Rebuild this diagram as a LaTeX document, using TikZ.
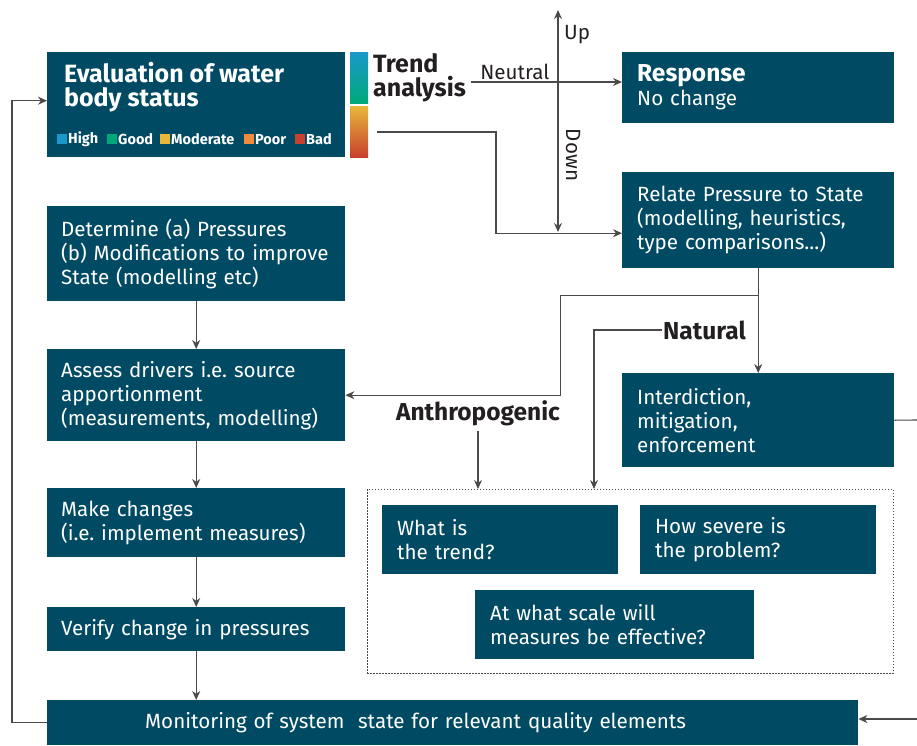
\documentclass[tikz,border=0pt]{standalone}
\usepackage{fontspec}
\setmainfont{Fira Sans}
\usetikzlibrary{arrows.meta}
\frenchspacing

\definecolor{boxteal}{HTML}{004B63}
\definecolor{wiregray}{HTML}{4A4A4A}
\definecolor{inkdark}{HTML}{231F20}
\definecolor{high}{HTML}{1A98CB}
\definecolor{good}{HTML}{00A97A}
\definecolor{moderate}{HTML}{E6B73B}
\definecolor{poor}{HTML}{F18B3B}
\definecolor{bad}{HTML}{C8402E}

\newcommand{\boxfont}{\fontsize{20.6}{24}\selectfont\frenchspacing}
\newcommand{\headfont}{\fontsize{25}{24}\selectfont\bfseries}
\newcommand{\tagfont}{\fontsize{24.5}{24}\selectfont\bfseries}
\newcommand{\keyfont}{\fontsize{14.5}{16}\selectfont\bfseries}

\tikzset{
  tealbox/.style={fill=boxteal, text=white, anchor=north west, inner xsep=15pt, inner ysep=0pt, align=left, font=\boxfont},
  widebox/.style={tealbox, inner xsep=14pt, text width=270pt},
  sidebox/.style={tealbox, text width=242pt},
  askbox/.style={tealbox, text width=206pt},
  wire/.style={draw=wiregray, line width=1.1pt},
  tag/.style={text=inkdark, font=\boxfont, inner sep=1pt},
  bigtag/.style={text=inkdark, font=\tagfont, inner sep=1pt},
}

\begin{document}
\begin{tikzpicture}[x=1pt, y=-1pt, >={Stealth[length=9pt,width=8pt]}]
\useasboundingbox (0,0) rectangle (917,745);

% status box, legend and colour bar
\node[widebox, minimum height=105pt] (eval) at (47,52) {};
\node[anchor=north west, text=white, font=\headfont, align=left, inner sep=0pt] (evaltitle) at (64,62) {Evaluation of water\\body status};
\foreach \name/\col/\x in {High/high/57, Good/good/107, Moderate/moderate/160, Poor/poor/244, Bad/bad/295} {
  \fill[\col] (\x,134) rectangle ++(10,10);
  \node[anchor=west, text=white, font=\keyfont, inner sep=0pt] (key\col) at (\x+11,139.5) {\name};
}
\shade[top color=high, bottom color=good] (350,52) rectangle (368,103);
\shade[top color=moderate, middle color=poor, bottom color=bad] (350,106) rectangle (368,157);

% trend analysis
\node[anchor=north west, text=inkdark, font=\headfont, align=left, inner sep=0pt] (trend) at (373,53) {Trend\\analysis};
\node[sidebox, minimum height=71pt] (response) at (622,52) {{\tagfont Response}\\No change};
\coordinate (neutralout) at (471,82);
\draw[wire,->] (neutralout) -- (neutralout -| response.west) node[pos=0.29, above, yshift=1pt, tag] (neutral) {Neutral};
\coordinate (up) at (558,10);
\coordinate (down) at (558,232);
\draw[wire,<->] (up) -- (down);
\node[tag, anchor=west] (uptag) at (563,35) {Up};
\node[tag, rotate=-90] (downtag) at (573,155) {Down};

% pressure to state
\node[sidebox, minimum height=96pt] (relate) at (622,172) {Relate Pressure to State\\(modelling, heuristics,\\type comparisons...)};
\coordinate (barout) at (377,132);
\draw[wire,->] (barout) -- (496,132) |- ([yshift=-13pt]relate.west);

% left column
\node[widebox, minimum height=95pt] (determine) at (47,206) {Determine (a) Pressures\\(b) Modifications to improve\\State (modelling etc)};
\node[widebox, minimum height=92pt] (assess) at (47,349) {Assess drivers i.e. source\\apportionment\\(measurements, modelling)};
\node[widebox, minimum height=69pt] (changes) at (47,488) {Make changes\\(i.e. implement measures)};
\node[widebox, minimum height=44pt] (verify) at (47,607) {Verify change in pressures};
\node[tealbox, inner xsep=98pt, text width=615pt, minimum height=45pt] (monitor) at (47,700) {Monitoring of system\ \ state for relevant quality elements};

\draw[wire,->] (determine) -- (assess);
\draw[wire,->] (assess) -- (changes);
\draw[wire,->] (changes) -- (verify);
\draw[wire,->] (verify.south) -- (verify.south |- monitor.north);
\draw[wire,->] (monitor.west) -- ++(-35,0) |- ([yshift=4pt]eval.west);

% split into causes
\node[sidebox, minimum height=94pt] (interdict) at (622,373) {Interdiction,\\mitigation,\\enforcement};
\coordinate (split) at ([yshift=-27pt]relate.south);
\draw[wire] (relate.south) -- (split);
\draw[wire,->] (split) -- (interdict.north);
\draw[wire,->] (split) -| ([xshift=215pt]assess.east) -- (assess.east);
\coordinate (rightout) at (917,420);
\draw[wire] (interdict.east) -- (rightout);
\coordinate (rightin) at (917,719);
\draw[wire,->] (rightin) -- (rightin -| monitor.east);

% questions
\node[draw=wiregray, dash pattern=on 1.5pt off 1.5pt, line width=0.8pt, anchor=north west, minimum width=526pt, minimum height=184pt, inner sep=0pt] (questions) at (367,489) {};
\node[askbox, minimum height=69pt] (trendq) at (382,505) {What is\\the trend?};
\node[askbox, minimum height=69pt] (severeq) at (640,505) {How severe is\\the problem?};
\node[tealbox, text width=249pt, minimum height=69pt] (scaleq) at (475,590) {At what scale will\\measures be effective?};

\node[bigtag, anchor=west] (natural) at (662,330) {Natural};
\draw[wire,->] (natural.west) -| ([xshift=227pt]questions.north west);
\node[bigtag] (anthro) at (478,413) {Anthropogenic};
\draw[wire,->] ([yshift=-4pt]anthro.south) -- (anthro.south |- questions.north);
\end{tikzpicture}
\end{document}
